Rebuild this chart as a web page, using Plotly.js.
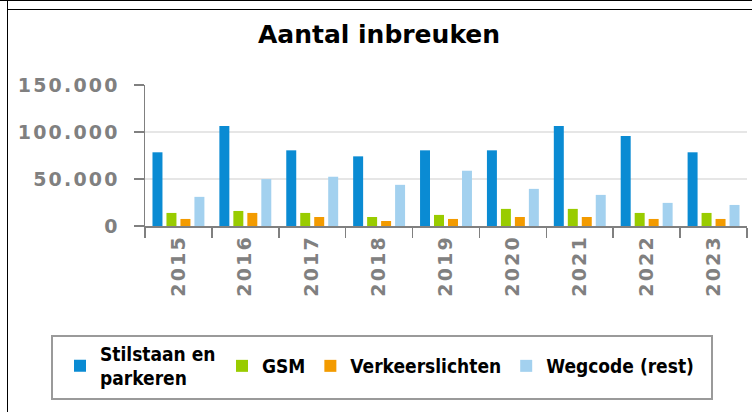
<!DOCTYPE html>
<html>
<head>
<meta charset="utf-8">
<script src="https://cdn.plot.ly/plotly-3.0.1.min.js"></script>
<style>
  html, body { margin: 0; padding: 0; background: #fff; }
  #wrap { position: relative; width: 752px; height: 412px; overflow: hidden; }
  #chart { position: absolute; left: 0; top: 0; width: 752px; height: 412px; }
  .bl { position: absolute; background: #000; pointer-events: none; }
  .ytick text, .xtick text { letter-spacing: 2.2px; }
</style>
</head>
<body>
<div id="wrap">
  <div id="chart"></div>
  <div class="bl" style="left:0;top:0;width:752px;height:1px;"></div>
  <div class="bl" style="left:7px;top:0;width:1px;height:412px;"></div>
  <div class="bl" style="left:7px;top:9px;width:745px;height:1px;"></div>
</div>
<script>
const years = ['2015','2016','2017','2018','2019','2020','2021','2022','2023'];
const stilstaan = [78400, 106500, 80500, 74100, 80500, 80500, 106500, 95800, 78400];
const gsm = [13900, 16000, 13900, 9600, 11800, 18200, 18200, 13900, 13900];
const verkeerslichten = [7500, 13900, 9600, 5300, 7500, 9600, 9600, 7500, 7500];
const wegcode = [31000, 49900, 52400, 43800, 58800, 39500, 33100, 24600, 22400];
const seriesNames = ['Stilstaan en<br>parkeren', 'GSM', 'Verkeerslichten', 'Wegcode (rest)'];
const seriesColors = ['#0a8bd3', '#99cc00', '#f39b00', '#a3d1ef'];
const yTicks = [0, 50000, 100000, 150000];

const seriesValues = [stilstaan, gsm, verkeerslichten, wegcode];
const traces = seriesValues.map((vals, i) => ({
  type: 'bar',
  x: years,
  y: vals,
  name: seriesNames[i],
  legend: i === 0 ? 'legend' : 'legend2',
  marker: { color: seriesColors[i] },
  hoverinfo: 'x+y+name'
}));

const tickFont = { family: 'DejaVu Sans', size: 19, color: '#808080', weight: 'bold' };
const legendFont = { family: 'DejaVu Sans Condensed', size: 19, color: '#000', weight: 'bold' };

// plot area: x 145..747 px, y 85..226 px
const px2x = p => (p - 145) / 602;
const px2y = p => (226 - p) / 141;

const layout = {
  width: 752,
  height: 412,
  paper_bgcolor: 'rgba(0,0,0,0)',
  plot_bgcolor: 'rgba(0,0,0,0)',
  separators: ',.',
  margin: { l: 145, r: 5, t: 85, b: 186, autoexpand: false },
  title: {
    text: 'Aantal inbreuken',
    font: { family: 'DejaVu Sans', size: 25, color: '#000', weight: 'bold' },
    x: 0.504, xref: 'container', xanchor: 'center',
    y: 0.917, yref: 'container', yanchor: 'middle'
  },
  barmode: 'group',
  bargap: 0.164,
  bargroupgap: 0.286,
  xaxis: {
    type: 'category',
    tickangle: -90,
    tickfont: tickFont,
    ticks: 'outside',
    tickson: 'boundaries',
    ticklen: 10,
    tickwidth: 1.5,
    tickcolor: '#808080',
    showline: true,
    linecolor: '#808080',
    linewidth: 1.5,
    showgrid: false,
    zeroline: false,
    ticklabelstandoff: 0
  },
  yaxis: {
    range: [0, 150000],
    tickvals: yTicks,
    tickformat: ',d',
    tickfont: tickFont,
    ticks: 'outside',
    ticklen: 10,
    tickwidth: 1.5,
    tickcolor: '#808080',
    showline: true,
    linecolor: '#808080',
    linewidth: 1.5,
    showgrid: true,
    gridcolor: '#e6e6e6',
    gridwidth: 1.5,
    zeroline: false,
    ticklabelstandoff: 10
  },
  showlegend: true,
  legend: {
    orientation: 'h',
    x: px2x(60), xref: 'paper', xanchor: 'left',
    y: px2y(366), yref: 'paper', yanchor: 'middle',
    valign: 'middle',
    borderwidth: 0,
    bgcolor: 'rgba(0,0,0,0)',
    font: legendFont
  },
  legend2: {
    orientation: 'h',
    x: px2x(222), xref: 'paper', xanchor: 'left',
    y: px2y(366), yref: 'paper', yanchor: 'middle',
    valign: 'middle',
    borderwidth: 0,
    bgcolor: 'rgba(0,0,0,0)',
    itemgap: 7,
    font: legendFont
  },
  shapes: [{
    type: 'rect', xref: 'paper', yref: 'paper', layer: 'below',
    x0: px2x(52), x1: px2x(712), y0: px2y(399), y1: px2y(336),
    line: { color: '#9a9a9a', width: 2 }, fillcolor: '#fff'
  }]
};

Plotly.newPlot('chart', traces, layout, { displayModeBar: false, staticPlot: true });
</script>
</body>
</html>
